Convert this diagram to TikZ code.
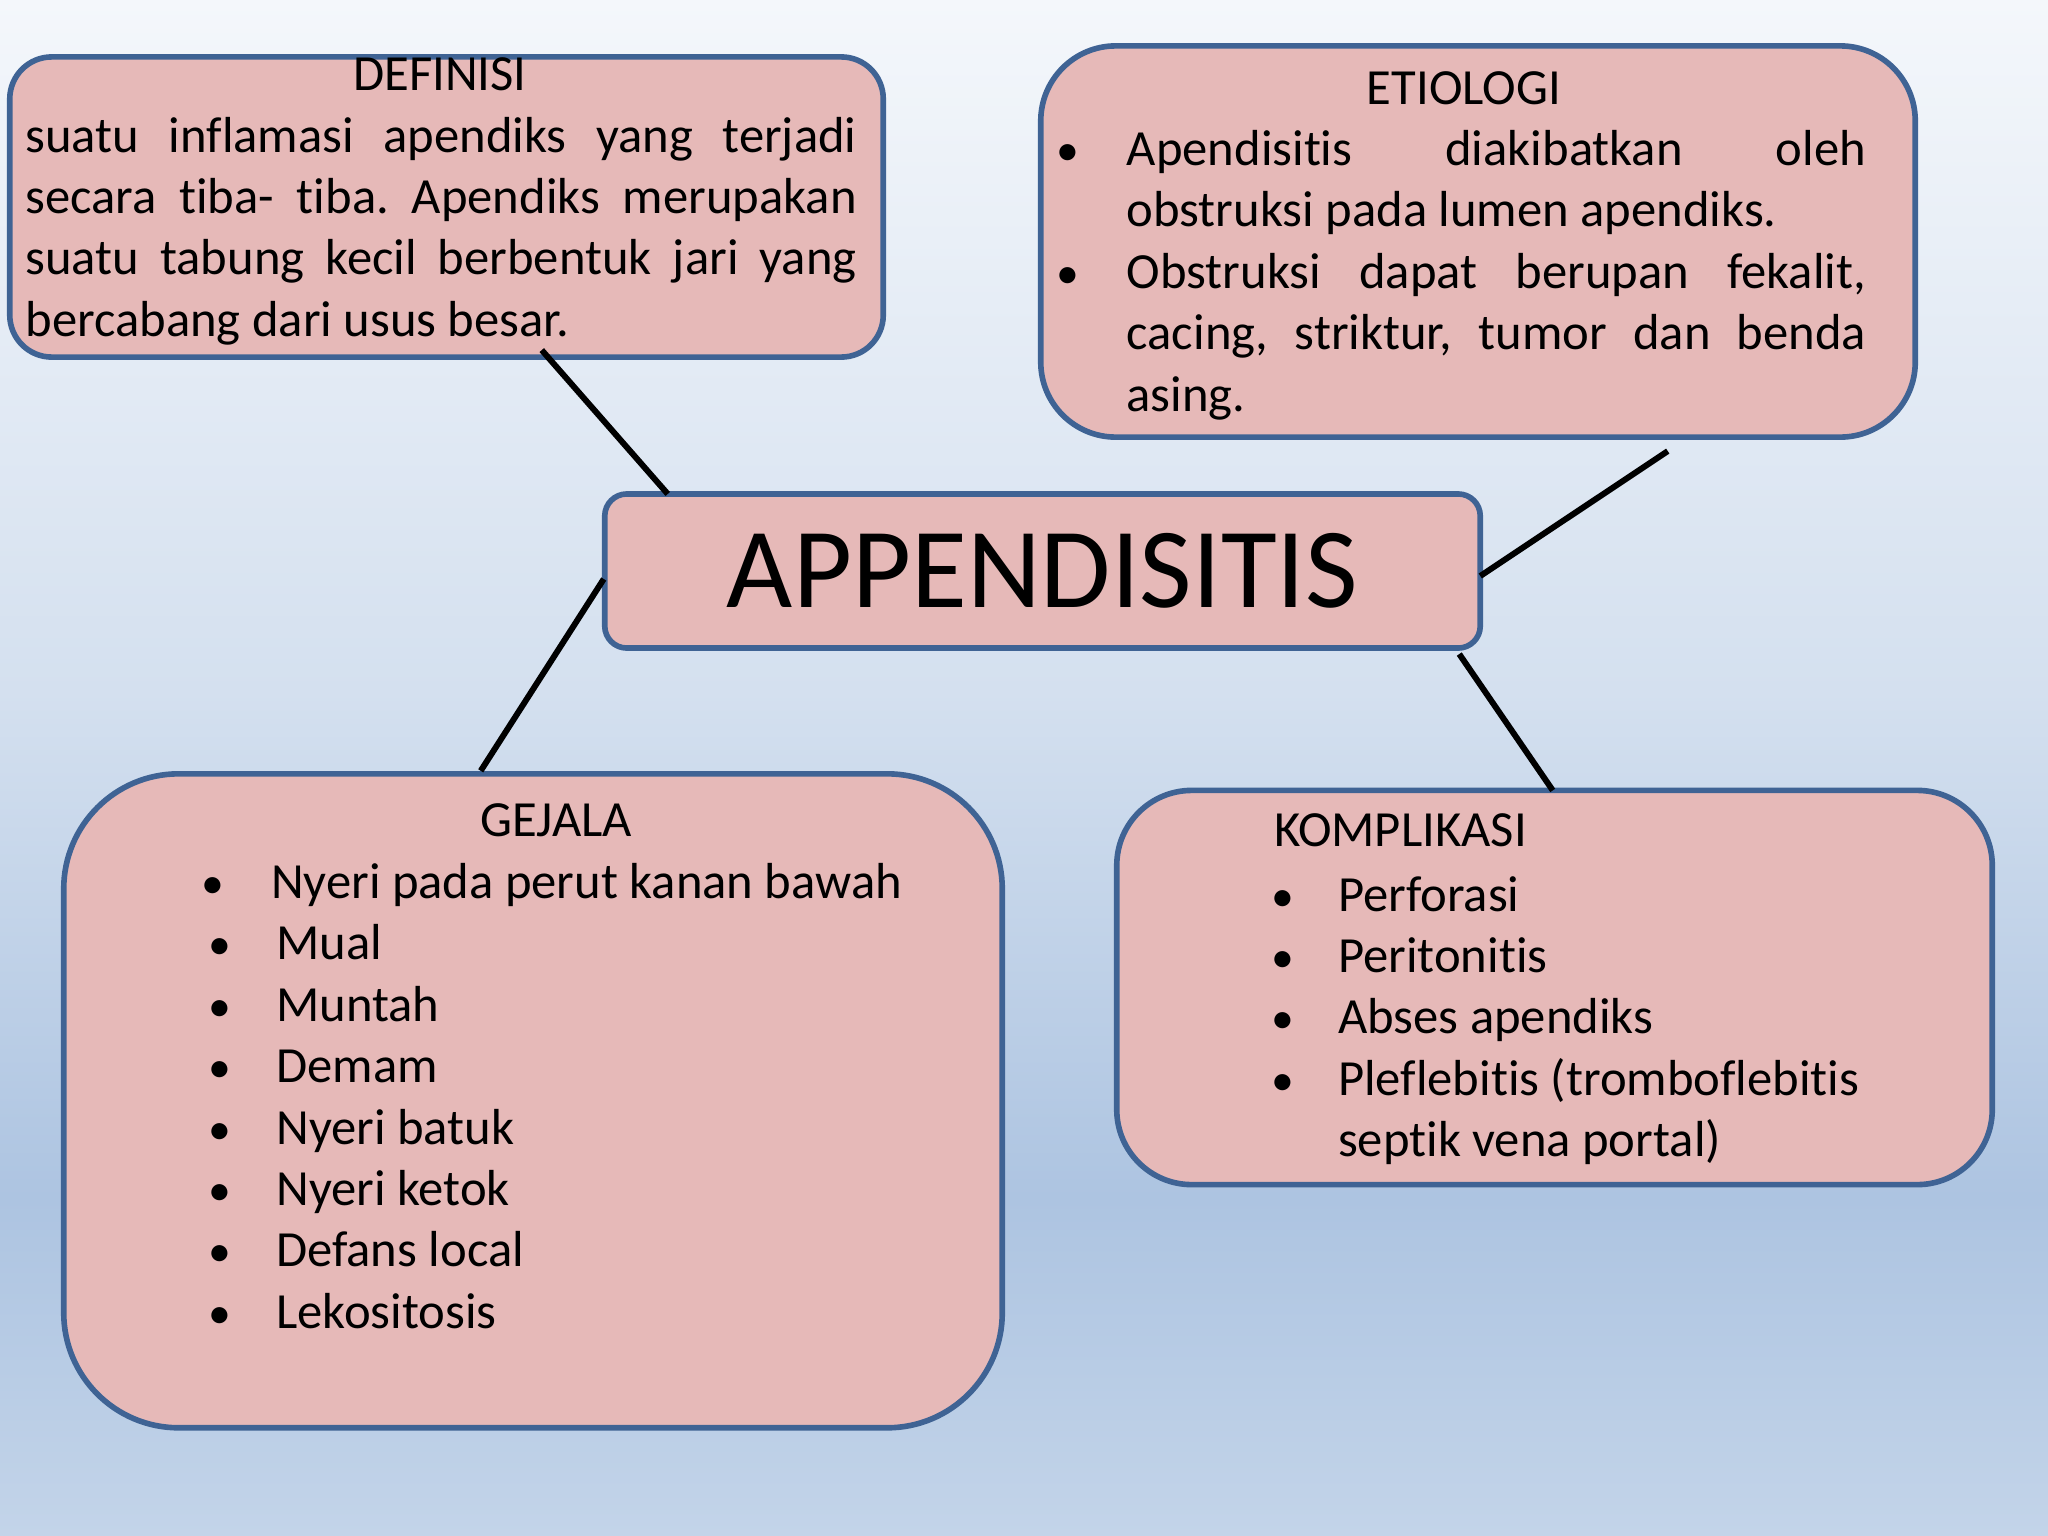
\documentclass[tikz,border=0pt]{standalone}
\usepackage{fontspec}
\setmainfont{Carlito}[Ligatures={NoCommon}]
\usetikzlibrary{calc}
\definecolor{boxfill}{HTML}{E6B9B8}
\definecolor{boxline}{HTML}{3F6394}
\definecolor{bgA}{HTML}{F4F7FB}
\definecolor{bgB}{HTML}{D4E0EF}
\definecolor{bgC}{HTML}{ADC4E1}
\definecolor{bgD}{HTML}{C3D4E9}
\pgfdeclareverticalshading{bgshade}{100bp}{color(0bp)=(bgD); color(25bp)=(bgD); color(36bp)=(bgC); color(52.5bp)=(bgB); color(75bp)=(bgA); color(100bp)=(bgA)}
\newcommand\bodyfont{\fontsize{14.4}{17.5}\selectfont}
\newcommand\bulfont{\fontsize{13}{17.5}\selectfont}
\frenchspacing
\begin{document}
\begin{tikzpicture}[x=0.01cm,y=-0.01cm,
  box/.style={draw=boxline, line width=1.6pt, fill=boxfill, rectangle, inner sep=0pt, outer sep=0pt},
  txt/.style={anchor=base west, inner sep=0pt, font=\bodyfont},
  hdr/.style={anchor=base, inner sep=0pt, font=\bodyfont},
  bul/.style={anchor=base, inner sep=0pt, font=\bulfont},
  link/.style={line width=1.7pt, draw=black}]
\useasboundingbox (0,0) rectangle (2048,1536);
\fill[shading=bgshade] (0,0) rectangle (2048,1536);

% boxes
\node[box, minimum width=8.73cm, minimum height=3.00cm, rounded corners=0.42cm] (defin) at (446.5,207) {};
\node[box, minimum width=8.74cm, minimum height=3.91cm, rounded corners=0.75cm] (etio) at (1478,241.5) {};
\node[box, minimum width=8.75cm, minimum height=1.54cm, rounded corners=0.22cm, font=\fontsize{32.5}{38}\selectfont] (app) at (1042.5,571) {APPENDISITIS};
\node[box, minimum width=9.38cm, minimum height=6.536cm, rounded corners=1.15cm] (gej) at (533,1100.8) {};
\node[box, minimum width=8.75cm, minimum height=3.94cm, rounded corners=0.75cm] (komp) at (1554.5,987.5) {};

% connectors
\draw[link] ($(defin.south west)+(532,-7)$) -- ($(app.north west)+(63,0)$);
\draw[link] ($(etio.south west)+(627,14)$) -- ($(app.east)+(0,5)$);
\draw[link] ($(app.west)+(-1,8)$) -- ($(gej.north west)+(417,-3)$);
\draw[link] ($(app.south east)+(-21,6)$) -- ($(komp.north west)+(436,0)$);

% DEFINISI
\node[hdr] (dh) at (440,90) {DEFINISI};
\node[txt] (d1) at (24.8,152) {\makebox[8.307cm][s]{suatu inflamasi apendiks yang terjadi}};
\node[txt] (d2) at (24.8,213.4) {\makebox[8.307cm][s]{secara tiba- tiba. Apendiks merupakan}};
\node[txt] (d3) at (24.8,274.8) {\makebox[8.307cm][s]{suatu tabung kecil berbentuk jari yang}};
\node[txt] (d4) at (24.8,336.2) {bercabang dari usus besar.};

% ETIOLOGI
\node[hdr] (eh) at (1464,104.5) {ETIOLOGI};
\node[bul] (eb1) at (1068,165.5) {•};
\node[txt] (e1) at (1126,165.5) {\makebox[7.39cm][s]{Apendisitis diakibatkan oleh}};
\node[txt] (e2) at (1126,226.9) {obstruksi pada lumen apendiks.};
\node[bul] (eb2) at (1068,288.3) {•};
\node[txt] (e3) at (1126,288.3) {\makebox[7.39cm][s]{Obstruksi dapat berupan fekalit,}};
\node[txt] (e4) at (1126,349.7) {\makebox[7.39cm][s]{cacing, striktur, tumor dan benda}};
\node[txt] (e5) at (1126,411.1) {asing.};

% GEJALA
\node[hdr] (gh) at (556,836) {GEJALA};
\node[bul] (gb1) at (213,898.5) {•};
\node[txt] (g1) at (270.4,898.5) {Nyeri pada perut kanan bawah};
\node[bul] (gb2) at (219.4,959.9) {•};
\node[txt] (g2) at (275.6,959.9) {Mual};
\node[bul] (gb3) at (219.4,1021.3) {•};
\node[txt] (g3) at (275.6,1021.3) {Muntah};
\node[bul] (gb4) at (219.4,1082.7) {•};
\node[txt] (g4) at (275.6,1082.7) {Demam};
\node[bul] (gb5) at (219.4,1144.1) {•};
\node[txt] (g5) at (275.6,1144.1) {Nyeri batuk};
\node[bul] (gb6) at (219.4,1205.5) {•};
\node[txt] (g6) at (275.6,1205.5) {Nyeri ketok};
\node[bul] (gb7) at (219.4,1266.9) {•};
\node[txt] (g7) at (275.6,1266.9) {Defans local};
\node[bul] (gb8) at (219.4,1328.3) {•};
\node[txt] (g8) at (275.6,1328.3) {Lekositosis};

% KOMPLIKASI
\node[txt] (kh) at (1273.5,846.4) {KOMPLIKASI};
\node[bul] (kb1) at (1282.6,911) {•};
\node[txt] (k1) at (1337.4,911) {Perforasi};
\node[bul] (kb2) at (1282.6,972.4) {•};
\node[txt] (k2) at (1337.4,972.4) {Peritonitis};
\node[bul] (kb3) at (1282.6,1033.8) {•};
\node[txt] (k3) at (1337.4,1033.8) {Abses apendiks};
\node[bul] (kb4) at (1282.6,1095.2) {•};
\node[txt] (k4) at (1337.4,1095.2) {Pleflebitis (tromboflebitis};
\node[txt] (k5) at (1337.4,1156.6) {septik vena portal)};
\end{tikzpicture}
\end{document}
